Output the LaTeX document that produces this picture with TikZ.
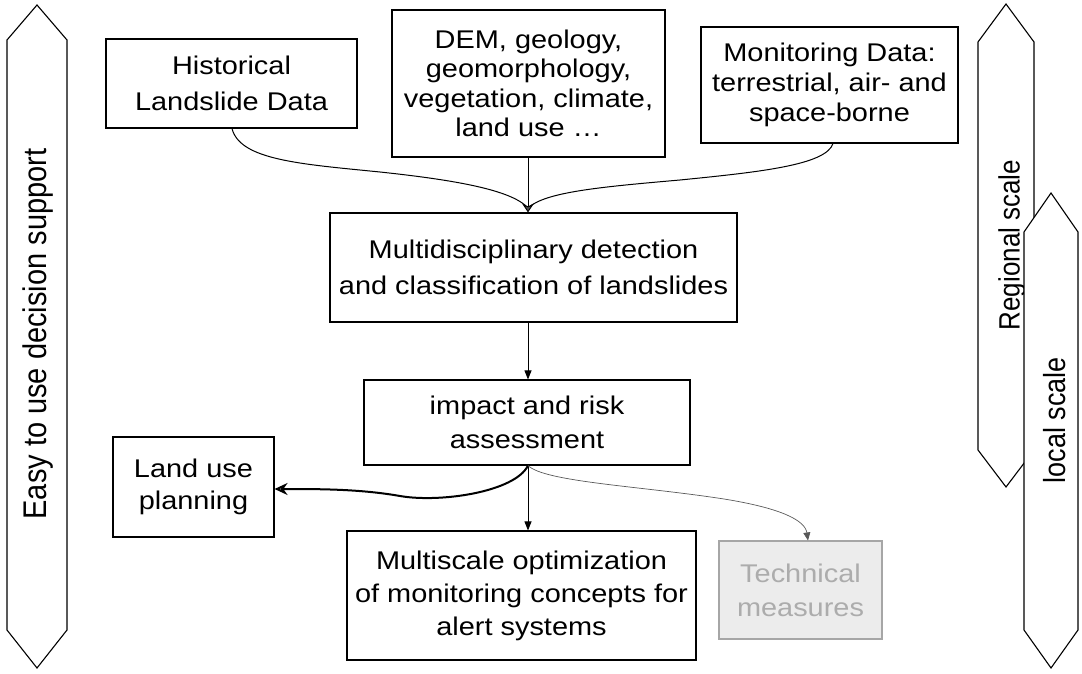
\documentclass[tikz,border=0pt]{standalone}
\usepackage{fontspec}
\setmainfont{Liberation Sans}[FakeStretch=1.13]
\newfontfamily\sidefont{Liberation Sans}
\usetikzlibrary{arrows.meta}
\newcommand{\sidelabel}[2]{{\sidefont\fontsize{#1}{#1}\selectfont\scalebox{1}[1.13]{#2}}}
\begin{document}
\begin{tikzpicture}[x=1pt,y=-1pt,
  box/.style={draw, line width=1.1pt, fill=white, align=center, inner sep=0pt,
    font=\fontsize{25.6}{34}\selectfont},
  lbl/.style={inner sep=0pt},
  scalebar/.style={draw, line width=1.1pt, fill=white},
  flow/.style={line width=0.9pt, -{Triangle[length=9pt,width=7pt]}},
  merge/.style={line width=1pt, -{Stealth[length=9pt,width=12pt,fill=gray!60!black]}}
]
\useasboundingbox (0,0) rectangle (1082,674);

% scale bars
\draw[scalebar] (37,5) -- (67,40) -- (67,630) -- (37,668) -- (7,630) -- (7,40) -- cycle;
\node[lbl, rotate=90] (easy) at (38,334) {\sidelabel{29}{Easy to use decision support}};

\draw[scalebar] (1006,4) -- (1034,42) -- (1034,450) -- (1006,487) -- (978,450) -- (978,42) -- cycle;
\node[lbl, rotate=90] (regional) at (1012,245) {\sidelabel{26}{Regional scale}};
\draw[scalebar] (1051,193) -- (1078,232) -- (1078,630) -- (1051,668) -- (1024,630) -- (1024,232) -- cycle;
\node[lbl, rotate=90] (local) at (1055,420) {\sidelabel{27}{local scale}};

% input data
\node[box, minimum width=251pt, minimum height=89pt, font=\fontsize{25.6}{36}\selectfont]
  (hist) at (231.5,83.5) {Historical\\Landslide Data};
\node[box, minimum width=273pt, minimum height=147pt,
  font=\fontsize{25.6}{29.5}\selectfont] (dem) at (528.5,83.5)
  {DEM, geology,\\geomorphology,\\vegetation, climate,\\land use \dots};
\node[box, minimum width=257pt, minimum height=116pt,
  font=\fontsize{25.6}{30}\selectfont] (mon) at (829.5,85)
  {Monitoring Data:\\terrestrial, air- and\\space-borne};

% processing chain
\node[box, minimum width=407pt, minimum height=109pt, font=\fontsize{25.6}{36}\selectfont]
  (detect) at (533.5,267.5)
  {Multidisciplinary detection\\and classification of landslides};
\node[box, minimum width=326pt, minimum height=85pt] (risk) at (527,422.5)
  {impact and risk\\assessment};
\node[box, minimum width=161pt, minimum height=100pt, font=\fontsize{25.6}{32}\selectfont]
  (landuse) at (193.5,487) {Land use\\planning};
\node[box, minimum width=349pt, minimum height=129pt, font=\fontsize{25.6}{33}\selectfont]
  (multi) at (521.5,595.5)
  {Multiscale optimization\\of monitoring concepts for\\alert systems};
\node[box, draw=gray!70, fill=gray!15, text=gray!65, minimum width=163pt,
  minimum height=98pt] (tech) at (800.5,590)
  {Technical\\measures};

% merging inputs
\coordinate (m) at (528,208);
\draw[line width=1pt] (hist.south -| 232,0) .. controls (240,160) and (300,164) .. (380,172)
  .. controls (455,180) and (512,190) .. (m);
\draw[line width=1pt] (mon.south -| 833,0) .. controls (826,165) and (760,172) .. (680,180)
  .. controls (600,187) and (545,192) .. (m);
\draw[merge] (dem.south -| m) -- (detect.north -| m);

% chain arrows
\draw[flow] (detect.south -| m) -- (risk.north -| m);
\draw[flow] (risk.south -| m) -- (multi.north -| m);
\draw[line width=2pt, -{Stealth[length=13pt,width=12pt,fill=gray!60]}]
  (risk.south -| m) .. controls (515,492) and (440,503) .. (400,496)
  .. controls (360,489) and (320,489) .. (landuse.east |- 0,489);
\draw[line width=0.7pt, gray!70!black, -{Triangle[length=8pt,width=7pt]}]
  (risk.south -| m) .. controls (545,482) and (640,486) .. (724,499)
  .. controls (780,508) and (805,520) .. (tech.north -| 808,0);
\end{tikzpicture}
\end{document}
